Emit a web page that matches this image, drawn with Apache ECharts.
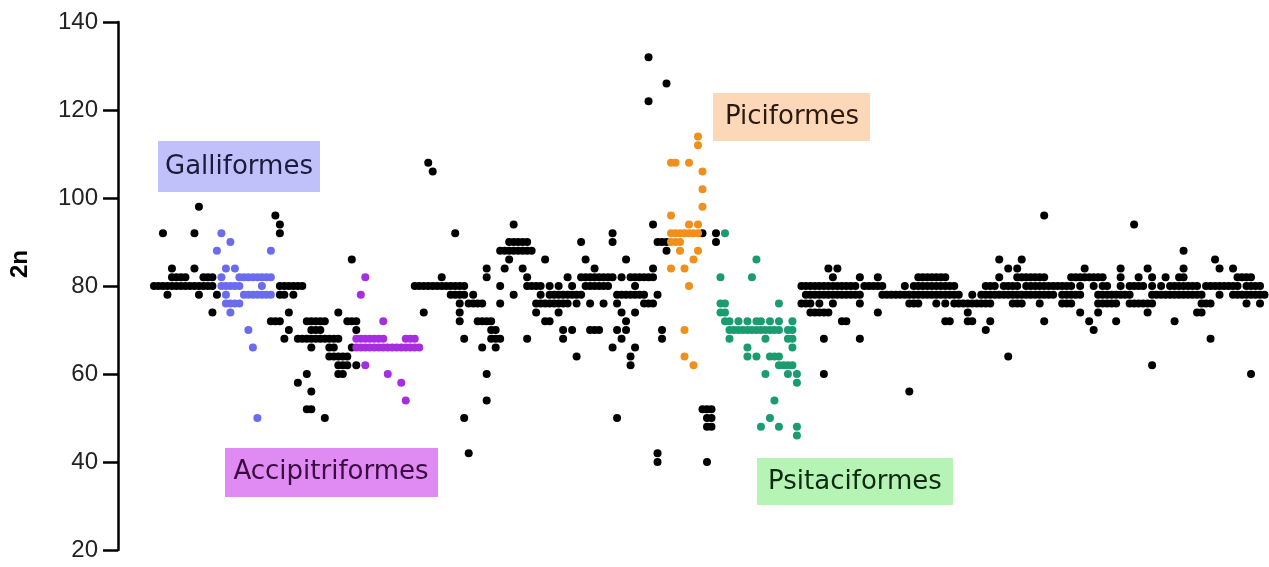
<!DOCTYPE html>
<html>
<head>
<meta charset="utf-8">
<script src="https://cdn.jsdelivr.net/npm/echarts@6/dist/echarts.min.js"></script>
<style>html,body{margin:0;padding:0;background:#fff}#c{width:1269px;height:567px}</style>
</head>
<body>
<div id="c"></div>
<script>
// y-axis ticks
const yTicks = [20, 40, 60, 80, 100, 120, 140];
// Each row: [2n value, [species order positions]]
const othersUpper = [
  [132, [118]], [126, [122]], [122, [118]], [108, [69]], [106, [70]], [98, [18]],
  [96, [35, 206]], [94, [36, 88, 119, 226]],
  [92, [10, 17, 36, 75, 110, 130, 133]],
  [90, [87, 88, 89, 90, 91, 103, 110, 120, 121, 122, 133]],
  [88, [85, 86, 87, 88, 89, 90, 91, 92, 122, 237]],
  [86, [52, 87, 95, 104, 113, 196, 201, 244]],
  [84, [12, 17, 82, 86, 90, 106, 119, 158, 160, 198, 200, 215, 223, 229, 237, 245, 248]]
];
const othersBand = [
  [82, [12, 13, 14, 15, 19, 20, 21, 72, 82, 91, 100, 103, 104, 105, 106, 107, 108, 109, 110, 112, 114, 115, 116, 117, 118, 119, 159, 165, 169, 178, 179, 180, 181, 182, 183, 184, 196, 200, 201, 202, 203, 204, 205, 206, 212, 213, 214, 215, 216, 217, 218, 219, 223, 227, 230, 233, 236, 237, 249, 250, 251, 252]],
  [80, [8, 9, 10, 11, 12, 13, 14, 15, 16, 17, 18, 19, 20, 21, 36, 37, 38, 39, 40, 41, 66, 67, 68, 69, 70, 71, 72, 73, 74, 75, 76, 77, 85, 91, 92, 93, 94, 96, 98, 101, 104, 105, 106, 107, 108, 109, 115, 152, 153, 154, 155, 156, 157, 158, 159, 160, 161, 162, 163, 164, 166, 167, 168, 169, 170, 175, 177, 178, 179, 180, 181, 182, 183, 184, 185, 186, 193, 194, 195, 197, 198, 199, 200, 202, 203, 204, 205, 206, 207, 208, 209, 210, 211, 212, 214, 217, 219, 220, 223, 225, 226, 227, 228, 230, 232, 234, 235, 236, 237, 238, 239, 240, 242, 243, 244, 245, 246, 247, 248, 249, 251, 252, 253, 254]],
  [78, [11, 18, 22, 36, 37, 39, 74, 75, 76, 77, 79, 88, 94, 96, 97, 98, 99, 100, 101, 102, 103, 111, 112, 113, 114, 115, 116, 117, 120, 153, 154, 155, 156, 157, 158, 159, 160, 161, 162, 163, 164, 165, 170, 171, 172, 173, 174, 175, 176, 177, 178, 179, 180, 181, 182, 183, 184, 185, 186, 187, 190, 192, 193, 194, 195, 196, 197, 198, 199, 200, 201, 202, 203, 204, 205, 206, 207, 208, 210, 211, 212, 213, 214, 218, 219, 220, 221, 222, 223, 224, 225, 230, 231, 232, 233, 234, 235, 236, 237, 238, 239, 240, 241, 245, 248, 249, 250, 251, 252, 253, 254, 255]],
  [76, [76, 78, 79, 80, 81, 85, 93, 94, 95, 96, 97, 98, 99, 100, 102, 105, 108, 111, 117, 118, 119, 152, 153, 154, 156, 159, 165, 176, 177, 178, 182, 184, 186, 187, 188, 189, 190, 191, 192, 193, 194, 199, 200, 201, 205, 210, 211, 212, 218, 219, 220, 221, 222, 225, 226, 227, 228, 229, 230, 241, 242, 243, 251, 254]]
];
const othersLower = [
  [74, [21, 38, 49, 68, 76, 93, 98, 112, 115, 154, 155, 156, 157, 158, 169, 189, 214, 218, 229, 240, 241]],
  [72, [34, 35, 36, 42, 43, 44, 45, 46, 51, 52, 53, 76, 80, 81, 82, 83, 95, 96, 113, 161, 162, 184, 185, 189, 190, 194, 206, 216, 222, 235]],
  [70, [38, 43, 44, 45, 53, 83, 84, 99, 101, 105, 106, 107, 111, 113, 121, 193, 217]],
  [68, [37, 40, 41, 42, 43, 44, 45, 46, 47, 48, 49, 77, 83, 84, 85, 91, 99, 112, 121, 157, 165, 243]],
  [66, [43, 47, 48, 52, 81, 84, 110, 115]],
  [64, [47, 48, 49, 50, 51, 102, 114, 198]],
  [62, [49, 50, 51, 53, 114, 230]],
  [60, [42, 49, 50, 82, 157, 252]],
  [58, [40]], [56, [43, 176]], [54, [82]],
  [52, [42, 43, 130, 131, 132]],
  [50, [46, 77, 111, 131, 132]],
  [48, [131, 132]], [42, [78, 120]], [40, [120, 131]]
];
const galliformes = [
  [92, [23]], [90, [25]], [88, [22, 34]], [84, [24, 26]],
  [82, [23, 27, 28, 29, 30, 31, 32, 33, 34]],
  [80, [23, 24, 25, 26, 27, 32]],
  [78, [24, 28, 29, 30, 31, 32, 33, 34]],
  [76, [24, 25, 26, 27]], [74, [25]], [70, [29]], [66, [30]], [50, [31]]
];
const accipitriformes = [
  [82, [55]], [78, [54]], [72, [59]],
  [68, [53, 54, 55, 56, 57, 58, 59, 64, 65, 66]],
  [66, [53, 54, 55, 56, 57, 58, 59, 60, 61, 62, 63, 64, 65, 66, 67]],
  [62, [55]], [60, [60]], [58, [63]], [54, [64]]
];
const piciformes = [
  [114, [129]], [112, [129]], [108, [123, 124, 127]], [106, [130]], [102, [130]], [98, [130]],
  [96, [123]], [94, [127, 129]], [92, [123, 124, 125, 126, 127, 128, 129]],
  [90, [123, 124, 125]], [88, [125, 129]], [86, [128]], [84, [123, 126]],
  [80, [127]], [70, [126]], [64, [126]], [62, [128]]
];
const psitaciformes = [
  [92, [135]], [86, [142]], [82, [134, 141]], [76, [134, 135, 147]], [74, [134, 135]],
  [72, [135, 136, 138, 140, 142, 143, 145, 147, 150]],
  [70, [136, 137, 138, 139, 140, 141, 142, 143, 144, 145, 146, 147, 149, 150]],
  [68, [136, 144, 149, 150]], [66, [140, 150]], [64, [140, 142, 145, 146, 147]],
  [62, [147, 148, 149, 150]], [60, [144, 149, 151]], [58, [151]], [54, [146]],
  [50, [145]], [48, [143, 147, 151]], [46, [151]]
];
const groupLabels = ['Galliformes', 'Accipitriformes', 'Piciformes', 'Psitaciformes'];

function pts(rows) { return rows.flatMap(([y, xs]) => xs.map(x => [x, y])); }

const chart = echarts.init(document.getElementById('c'), null, {renderer: 'canvas'});
const sym = 8;
function sc(name, data, color) {
  return {name, type: 'scatter', data, symbolSize: sym, itemStyle: {color, opacity: 1}, emphasis: {disabled: true}};
}
const txt = (text, x, y, fill, font, rot) => ({
  type: 'text', x, y, rotation: rot || 0,
  style: {text, font, fill, align: 'center', verticalAlign: 'middle', textAlign: 'center', textVerticalAlign: 'middle'}
});
chart.setOption({
  animation: false,
  backgroundColor: '#fff',
  grid: {left: 118, right: 0, top: 22, bottom: 17},
  xAxis: {type: 'value', min: 0, max: 256, show: false},
  yAxis: {
    type: 'value', min: yTicks[0], max: yTicks[yTicks.length - 1], interval: 20,
    axisLine: {show: true, lineStyle: {color: '#000', width: 2.5}},
    axisTick: {show: true, length: 15, lineStyle: {color: '#000', width: 2.5}},
    axisLabel: {fontSize: 24, fontFamily: 'Liberation Sans', color: '#222', margin: 20},
    splitLine: {show: false}
  },
  series: [
    sc('Other', pts(othersUpper).concat(pts(othersBand), pts(othersLower)), '#000'),
    sc(groupLabels[0], pts(galliformes), '#6b6bef'),
    sc(groupLabels[1], pts(accipitriformes), '#a52ee0'),
    sc(groupLabels[2], pts(piciformes), '#f0901c'),
    sc(groupLabels[3], pts(psitaciformes), '#1a9c70')
  ],
  graphic: [
    txt('2n', 20, 264, '#000', 'bold 24px "Liberation Sans"', Math.PI / 2),
    {type: 'rect', shape: {x: 158, y: 141, width: 162, height: 51}, style: {fill: '#c0c0fa'}},
    txt(groupLabels[0], 239, 167, '#1b1b3b', '26px "DejaVu Sans"'),
    {type: 'rect', shape: {x: 225, y: 448, width: 213, height: 49}, style: {fill: '#df8bf3'}},
    txt(groupLabels[1], 331, 472, '#3a0b40', '26px "DejaVu Sans"'),
    {type: 'rect', shape: {x: 713, y: 93, width: 157, height: 48}, style: {fill: '#fdd8b8'}},
    txt(groupLabels[2], 792, 117, '#2a1a10', '26px "DejaVu Sans"'),
    {type: 'rect', shape: {x: 757, y: 458, width: 196, height: 47}, style: {fill: '#b6f4b6'}},
    txt(groupLabels[3], 855, 482, '#0f2a10', '26px "DejaVu Sans"')
  ]
});
</script>
</body>
</html>
